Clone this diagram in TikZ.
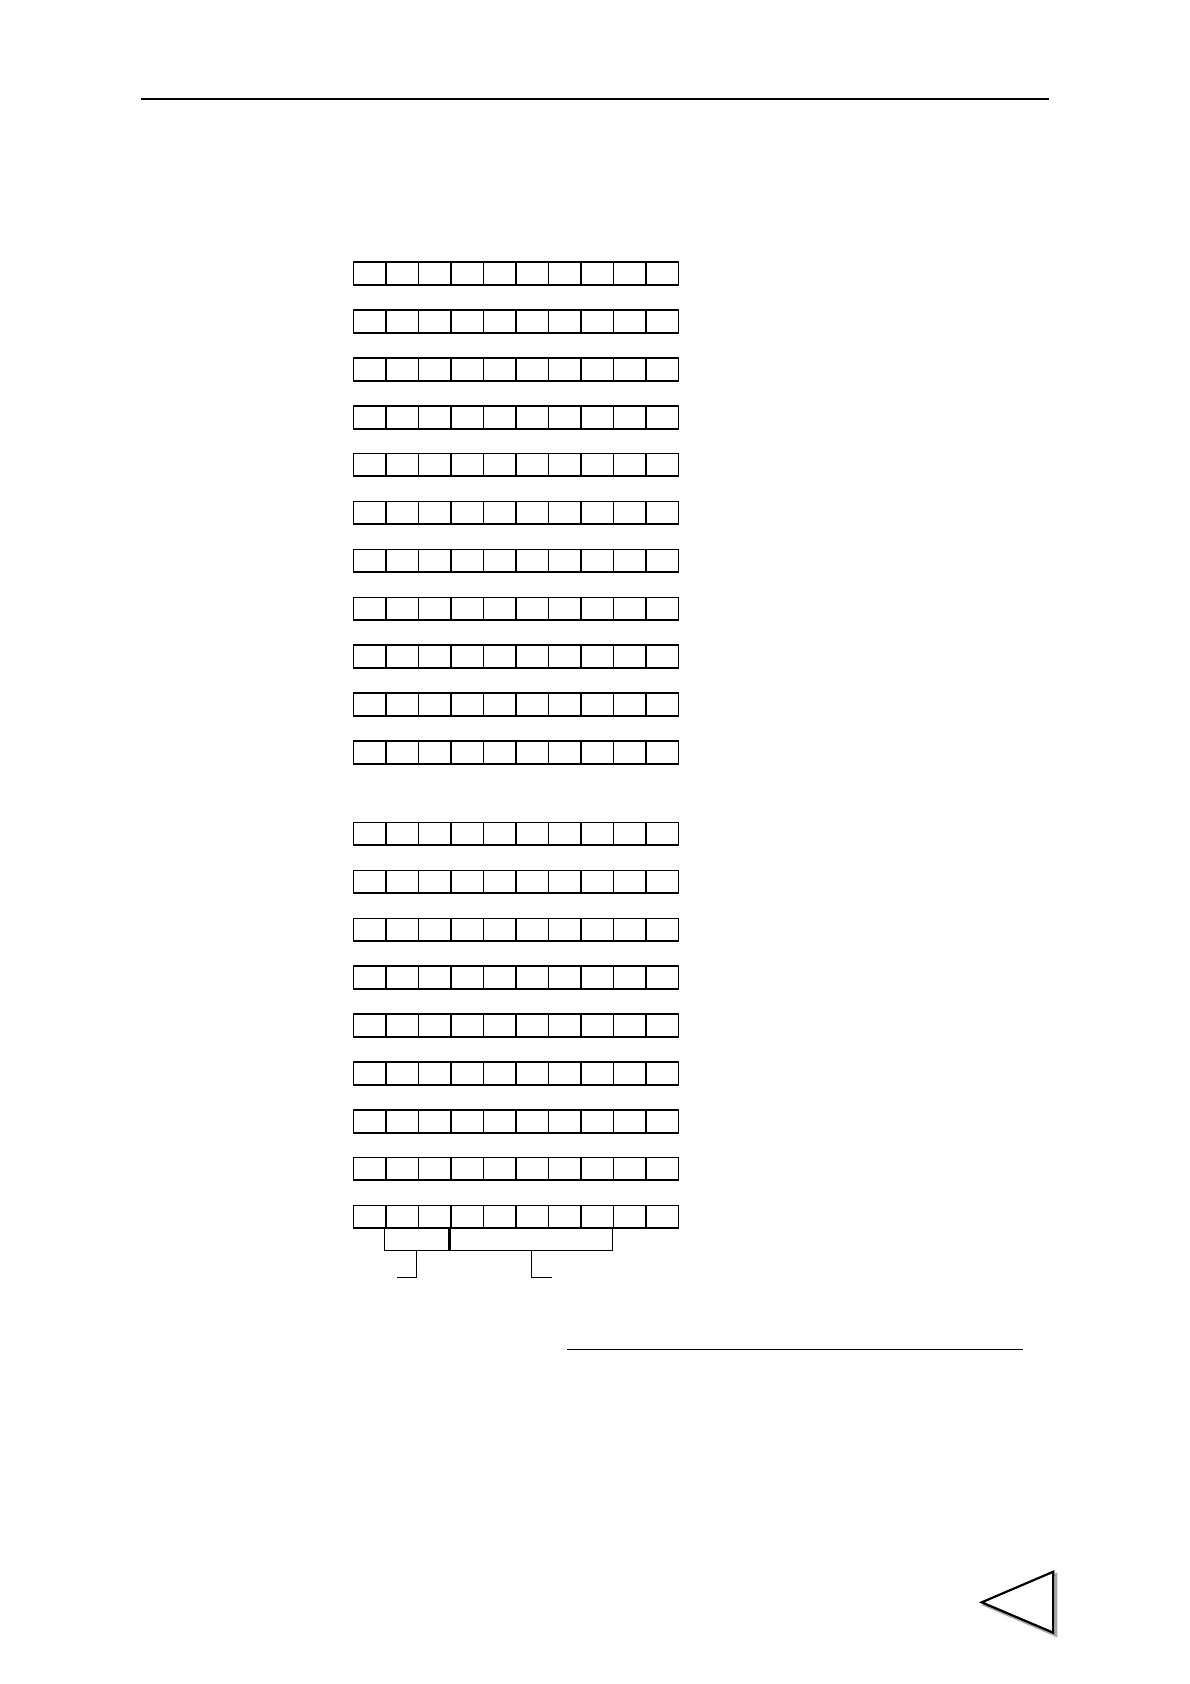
\documentclass[tikz,border=0pt]{standalone}
\begin{document}
\begin{tikzpicture}[x=1pt,y=-1pt,
  rule/.style={line width=2.2pt},
  thinrule/.style={line width=1.1pt},
  cellline/.style={line width=1.9pt},
  brace/.style={line width=1.1pt},
  tri/.style={line width=2.2pt, line join=miter},
  trishadow/.style={line width=2.5pt, draw=black!35}]
\useasboundingbox (0,0) rectangle (1190,1684);
% top rule
\draw[rule] (141,99) -- (1049,99);
% groups of cell rows
\def\cw{32.5}
\foreach \ytop in {262,310,358,406,453.5,501.5,549.5,597.5,645,693,741,822.5,870.5,918.5,966,1014,1062,1110,1157.5,1205.5}{
  \draw[cellline] (353.5,\ytop) rectangle (678.5,\ytop+22.8);
  \foreach \k in {1,...,9}{
    \draw[cellline] (353.5+\k*\cw,\ytop) -- (353.5+\k*\cw,\ytop+22.8);
  }
}
% brackets under the last row
\coordinate (bl1) at (384.5,1228.3);
\coordinate (br1) at (449,1228.3);
\coordinate (bl2) at (450.5,1228.3);
\coordinate (br2) at (612.5,1228.3);
\draw[brace] (bl1) -- ++(0,22.5) -| (br1);
\draw[brace] (bl2) -- ++(0,22.5) -| (br2);
\draw[brace] (416.7,1250.8) -- (416.7,1277.3) -- (397.3,1277.3);
\draw[brace] (531.6,1250.8) -- (531.6,1277.3) -- (551.7,1277.3);
% underline
\draw[thinrule] (567,1349.3) -- (1022.7,1349.3);
% triangle with shadow
\draw[trishadow] (984.5,1605) -- (1056,1574.5) -- (1056,1635.5) -- cycle;
\draw[tri,fill=white] (981.7,1602.3) -- (1053.3,1571.7) -- (1053.3,1632.7) -- cycle;
\end{tikzpicture}
\end{document}
